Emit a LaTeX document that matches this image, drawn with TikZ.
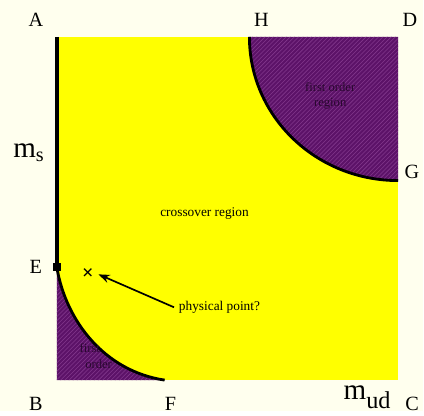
\documentclass[tikz,border=0pt]{standalone}
\usepackage{fontspec}
\setmainfont{Liberation Serif}
\usetikzlibrary{positioning,patterns,arrows.meta}
\definecolor{cream}{RGB}{255,255,238}
\definecolor{yel}{RGB}{255,255,0}
\definecolor{purp}{RGB}{92,18,104}
\definecolor{purphatch}{RGB}{130,55,140}

\begin{document}
\begin{tikzpicture}[
    x=0.025cm, y=-0.025cm,
    corner/.style={font=\Large},
    axislabel/.style={font=\huge},
    tag/.style={font=\fontsize{9.5}{11}\selectfont},
    inner/.style={font=\small, text=purp!45!black, align=center},
    region/.style={fill=purp},
    hatch/.style={pattern=north east lines, pattern color=purphatch},
    edge/.style={line width=2pt},
    >={Stealth[length=8pt,width=6pt]}
]
    \fill[cream] (0,0) rectangle (424,412);

    % corners of the plane
    \coordinate (A) at (57,37);
    \coordinate (B) at (57,381);
    \coordinate (C) at (399,381);
    \coordinate (D) at (399,37);
    \coordinate (E) at (57,268);
    \coordinate (F) at (165,381);
    \coordinate (G) at (399,181);
    \coordinate (H) at (250,37);

    \fill[yel] (A) rectangle (C);

    % first order corners
    \fill[region] (H) .. controls (250,117) and (317,181) .. (G) -- (D) -- cycle;
    \fill[hatch] (H) .. controls (250,117) and (317,181) .. (G) -- (D) -- cycle;
    \fill[region] (E) .. controls (66,322) and (105,372) .. (F) -- (B) -- cycle;
    \fill[hatch] (E) .. controls (66,322) and (105,372) .. (F) -- (B) -- cycle;

    \draw[edge] (H) .. controls (250,117) and (317,181) .. (G);
    \draw[edge] (E) .. controls (66,322) and (105,372) .. (F);
    \draw[line width=2.4pt] (A) -- (E);
    \fill (53,264) rectangle (61,272);

    % labels
    \node[corner] (lA) at (36,20) {A};
    \node[corner] (lH) at (262,20) {H};
    \node[corner] (lD) at (411,20) {D};
    \node[corner] (lG) at (413,172) {G};
    \node[corner] (lE) at (36,268) {E};
    \node[corner] (lB) at (36,405) {B};
    \node[corner] (lF) at (171,405) {F};
    \node[corner] (lC) at (413,405) {C};
    \node[axislabel] (ms) at (29,153) {m\textsubscript{s}};
    \node[axislabel] (mud) at (368,398) {m\raisebox{-6pt}{\LARGE ud}};

    \node[tag] (cross) at (205,214) {crossover region};
    \node[inner] (fo1) at (331,96) {first order\\region};
    \node[inner] (fo2) at (90,357) {first\\\hspace*{1.4em}order};

    \node[font=\Large\bfseries] (phys) at (88,275) {×};
    \node[tag] (pp) at (220,308) {physical point?};
    \draw[->, line width=1.2pt] (pp.west) -- (phys.east);
\end{tikzpicture}
\end{document}
